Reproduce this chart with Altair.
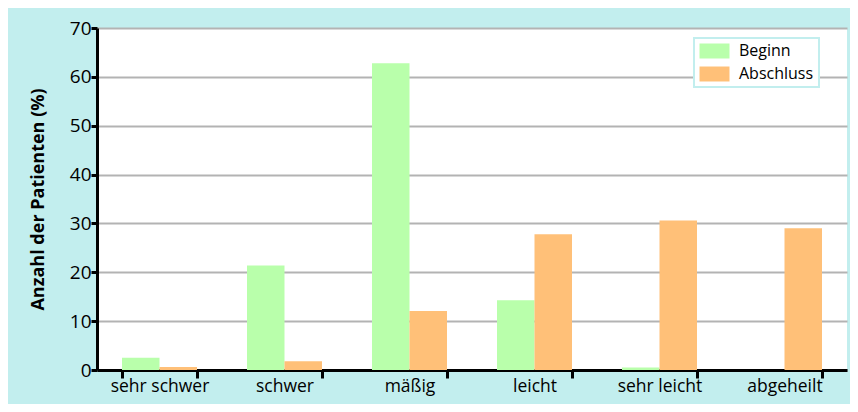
import altair as alt
import pandas as pd

categories = ["sehr schwer", "schwer", "mäßig", "leicht", "sehr leicht", "abgeheilt"]
series = ["Beginn", "Abschluss"]
beginn = [2.5, 21.4, 62.8, 14.3, 0.5, 0.0]
abschluss = [0.6, 1.8, 12.1, 27.8, 30.6, 29.0]
y_ticks = [0, 10, 20, 30, 40, 50, 60, 70]

rows = []
for c, b, a in zip(categories, beginn, abschluss):
    rows.append({"Kategorie": c, "Zeitpunkt": "Beginn", "Wert": b})
    rows.append({"Kategorie": c, "Zeitpunkt": "Abschluss", "Wert": a})
df = pd.DataFrame(rows)

FONT = "Open Sans"

chart = alt.Chart(df).mark_bar().encode(
    x=alt.X("Kategorie:N", sort=categories, title=None,
            scale=alt.Scale(paddingInner=0.4, paddingOuter=0.2),
            axis=alt.Axis(labelAngle=0, tickBand="extent", domainColor="black",
                          domainWidth=3, tickColor="black", tickWidth=3, tickSize=8,
                          labelFont=FONT, labelFontSize=17.5, labelColor="black",
                          labelPadding=-1, grid=False)),
    xOffset=alt.XOffset("Zeitpunkt:N", sort=series),
    y=alt.Y("Wert:Q", title="Anzahl der Patienten (%)",
            scale=alt.Scale(domain=[0, 70], nice=False),
            axis=alt.Axis(values=y_ticks, domainColor="black", domainWidth=3,
                          tickColor="black", tickWidth=3, tickSize=6,
                          labelFont=FONT, labelFontSize=19, labelColor="black",
                          labelPadding=0, titleFont=FONT, titleFontSize=18,
                          titleFontWeight="bold", titleColor="black", titlePadding=22,
                          grid=True, gridColor="#b3b3b3", gridWidth=2)),
    color=alt.Color("Zeitpunkt:N", sort=series,
                    scale=alt.Scale(domain=series, range=["#b9ffab", "#ffc078"]),
                    legend=alt.Legend(title=None, orient="none", legendX=597, legendY=10,
                                      symbolType="M-1,-1H3V1H-1Z", symbolSize=225,
                                      symbolStrokeWidth=0, symbolOpacity=1,
                                      labelOffset=24, labelFont=FONT, labelFontSize=16,
                                      labelColor="black", rowPadding=7, padding=5,
                                      fillColor="white", strokeColor="#c2eeee")),
).properties(
    width=750, height=342,
    background="#c2eeee",
    padding={"left": 89, "top": 20, "right": 3, "bottom": 34},
    autosize=alt.AutoSizeParams(type="none"),
).configure_view(fill="white", stroke=None).configure_legend(strokeWidth=2)

chart.save("out.html", embed_options={"renderer": "svg", "actions": False})
